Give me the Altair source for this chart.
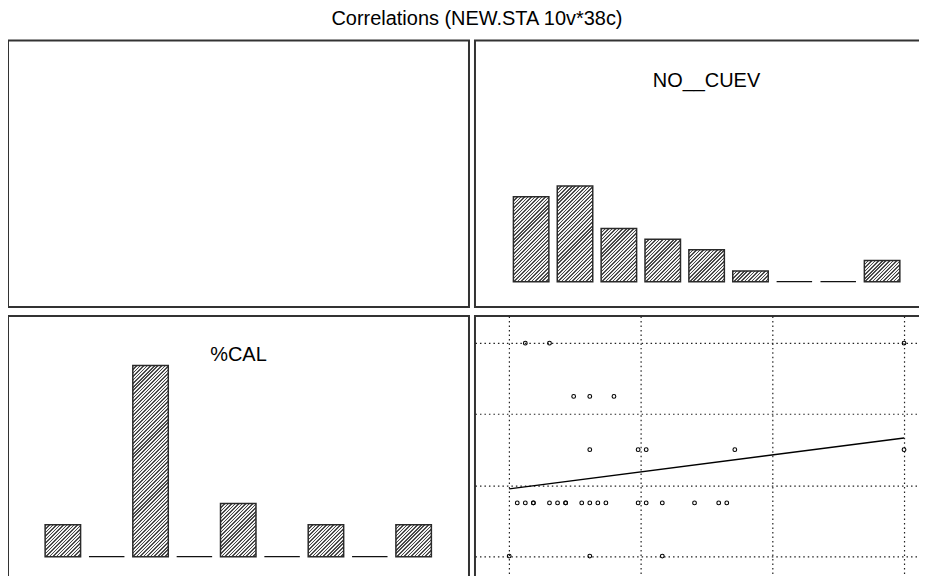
import math
import altair as alt
import pandas as pd

# ---------------- data ----------------
main_title = "Correlations (NEW.STA 10v*38c)"
var_x_name = "NO__CUEV"
var_y_name = "%CAL"

# histogram counts, 9 equal bins over each variable's range
cuev_counts = [8, 9, 5, 4, 3, 1, 0, 0, 2]
cal_counts = [3, 0, 18, 0, 5, 0, 3, 0, 3]
cuev_range = [0, 49]
cal_range = [0, 4]          # %CAL: five equally spaced levels (0..4)

# scatter points (x = NO__CUEV, y = %CAL level)
scatter_cuev = [2, 5, 49,
                8, 10, 13,
                10, 16, 17, 28, 49,
                1, 2, 3, 3, 5, 6, 7, 7, 9, 10, 11, 12, 16, 17, 19, 23, 26, 27,
                0, 10, 19]
scatter_cal = [4, 4, 4,
               3, 3, 3,
               2, 2, 2, 2, 2,
               1, 1, 1, 1, 1, 1, 1, 1, 1, 1, 1, 1, 1, 1, 1, 1, 1, 1,
               0, 0, 0]

# ---------------- layout constants ----------------
FONT = "Liberation Sans"
W_LEFT, W_RIGHT = 462, 464
H_TOP, H_BOTTOM = 267, 268
PX_PER_COUNT = 10.65
BAR_INSET = 0.0956
HATCH_PERIOD = 2.5
HATCH_DUTY = 0.45
HATCH_DARK = "#4a4a4a"
HATCH_LIGHT = "#f2f2f2"


def padded(lo, hi, size, pad_lo, pad_hi):
    k = (hi - lo) / (size - pad_lo - pad_hi)
    return [lo - pad_lo * k, hi + pad_hi * k]


def hatch_fill(w, h):
    """Diagonal '/' hatch as a hard-stop linear gradient for a w x h px bar."""
    s = w * w + h * h
    dx = w * (w + h) / s
    dy = h * (w + h) / s
    n = (w + h) / (HATCH_PERIOD * math.sqrt(2))
    stops = []
    i = 0
    while i / n < 1:
        a = i / n
        b = min((i + HATCH_DUTY) / n, 1)
        c = min((i + 1) / n, 1)
        stops += [{"offset": a, "color": HATCH_DARK}, {"offset": b, "color": HATCH_DARK},
                  {"offset": b, "color": HATCH_LIGHT}, {"offset": c, "color": HATCH_LIGHT}]
        i += 1
    return {"gradient": "linear", "x1": 0, "y1": 0, "x2": dx, "y2": dy, "stops": stops}


def hist_frame(counts, rng):
    lo, hi = rng
    n = len(counts)
    w = (hi - lo) / n
    rows = []
    for i, c in enumerate(counts):
        s = lo + i * w
        rows.append({"idx": i, "x0": s + BAR_INSET * w, "x1": s + w - BAR_INSET * w,
                     "count": c})
    return pd.DataFrame(rows)


def histogram(counts, rng, name, width, height, pad_x_lo, pad_x_hi,
              base_from_top, title_y):
    df = hist_frame(counts, rng)
    xdom = padded(rng[0], rng[1], width, pad_x_lo, pad_x_hi)
    ydom = [-(height - base_from_top) / PX_PER_COUNT, base_from_top / PX_PER_COUNT]
    xs = alt.Scale(domain=xdom, nice=False, zero=False)
    ys = alt.Scale(domain=ydom, nice=False, zero=False)
    bar_px = (width - pad_x_lo - pad_x_hi) / len(counts) * (1 - 2 * BAR_INSET)
    base = alt.Chart(df)
    layers = []
    for i, c in enumerate(counts):
        if c <= 0:
            continue
        layers.append(
            base.transform_filter(f"datum.idx == {i}").mark_bar(
                fill=hatch_fill(bar_px, c * PX_PER_COUNT),
                stroke="#2a2a2a", strokeWidth=1.5
            ).encode(
                x=alt.X("x0:Q", scale=xs, axis=None),
                x2="x1:Q",
                y=alt.Y("count:Q", scale=ys, axis=None),
                y2=alt.datum(0),
            )
        )
    zeros = base.transform_filter("datum.count == 0").mark_rule(
        color="#111", strokeWidth=1.2
    ).encode(
        x=alt.X("x0:Q", scale=xs, axis=None),
        x2="x1:Q",
        y=alt.Y("count:Q", scale=ys, axis=None),
    )
    label = alt.Chart(pd.DataFrame({"t": [name]})).mark_text(
        font=FONT, fontSize=20, color="black", baseline="alphabetic", align="center"
    ).encode(text="t:N", x=alt.value(width / 2), y=alt.value(title_y))
    return alt.layer(*layers, zeros, label).properties(width=width, height=height)


# empty top-left panel
empty = alt.Chart(pd.DataFrame({"v": [0]})).mark_point(opacity=0).encode(
    x=alt.X("v:Q", axis=None), y=alt.Y("v:Q", axis=None)
).properties(width=W_LEFT, height=H_TOP)

top_right = histogram(cuev_counts, cuev_range, var_x_name, W_RIGHT, H_TOP,
                      34.3, W_RIGHT - 34.3 - 395.7, 241.7, 46.7)
bottom_left = histogram(cal_counts, cal_range, var_y_name, W_LEFT, H_BOTTOM,
                        33.0, W_LEFT - 33.0 - 395.5, 241.3, 44.7)

# scatter panel
sdf = pd.DataFrame({"x": scatter_cuev, "y": scatter_cal})
sx = alt.Scale(domain=padded(cuev_range[0], cuev_range[1], W_RIGHT, 34.3, W_RIGHT - 34.3 - 395.7),
               nice=False, zero=False)
sy = alt.Scale(domain=padded(cal_range[0], cal_range[1], H_BOTTOM, 27.3, 27.3),
               nice=False, zero=False)
xgrid = [cuev_range[0] + i * (cuev_range[1] - cuev_range[0]) / 3 for i in range(4)]
ygrid = [cal_range[0] + i * (cal_range[1] - cal_range[0]) / 3 for i in range(4)]


def grid_axis(vals):
    return alt.Axis(values=vals, grid=True, labels=False, ticks=False, domain=False,
                    title=None, gridDash=[1.5, 3], gridColor="#222", gridWidth=1.2,
                    gridOpacity=1, minExtent=0, maxExtent=0)


pts = alt.Chart(sdf).mark_point(
    shape="circle", filled=False, size=14, color="black", strokeWidth=1.1, opacity=1
).encode(
    x=alt.X("x:Q", scale=sx, axis=grid_axis(xgrid)),
    y=alt.Y("y:Q", scale=sy, axis=grid_axis(ygrid)),
)
fit = alt.Chart(sdf).transform_regression("x", "y").mark_line(
    color="black", strokeWidth=1.4
).encode(
    x=alt.X("x:Q", scale=sx),
    y=alt.Y("y:Q", scale=sy),
)
scatter = alt.layer(pts, fit).properties(width=W_RIGHT, height=H_BOTTOM)

chart = alt.vconcat(
    alt.hconcat(empty, top_right, spacing=4),
    alt.hconcat(bottom_left, scatter, spacing=4),
    spacing=7,
).properties(
    title=alt.TitleParams(main_title, font=FONT, fontSize=20, fontWeight="normal",
                          color="black", anchor="middle", offset=11, dx=4),
    padding={"left": -1, "top": 0, "right": -20, "bottom": -9},
    background="white",
).configure_view(
    stroke="#333", strokeWidth=2
)

chart.save("out.html", embed_options={"renderer": "svg", "actions": False})
